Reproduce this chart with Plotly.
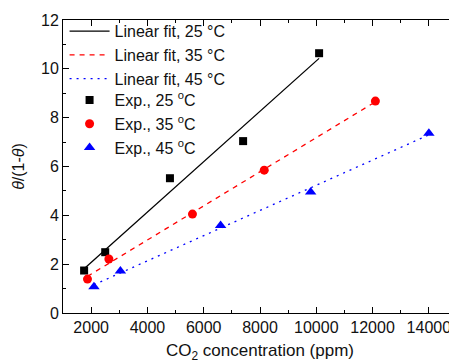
import numpy as np
import plotly.graph_objects as go

# Data
x25 = [1750, 2500, 4800, 7400, 10100]
y25 = [1.74, 2.49, 5.52, 7.04, 10.64]
x35 = [1870, 2630, 5600, 8150, 12100]
y35 = [1.39, 2.21, 4.05, 5.85, 8.68]
x45 = [2100, 3040, 6600, 9800, 14000]
y45 = [1.08, 1.72, 3.58, 4.96, 7.36]

x_ticks = [2000, 4000, 6000, 8000, 10000, 12000, 14000]
x_ticktext = ["2000", "4000", "6000", "8000", "10000", "12000", "14000"]
y_ticks = [0, 2, 4, 6, 8, 10, 12]
y_ticktext = ["0", "2", "4", "6", "8", "10", "12"]

fit_names = ["Linear fit, 25 °C", "Linear fit, 35 °C", "Linear fit, 45 °C"]
exp_names = ["Exp., 25 <sup>o</sup>C", "Exp., 35 <sup>o</sup>C", "Exp., 45 <sup>o</sup>C"]

FONT = "Liberation Sans, Arial, sans-serif"

fig = go.Figure()

series = [(x25, y25, "black", "solid", "square", 8),
          (x35, y35, "red", "5px,5px", "circle", 9),
          (x45, y45, "blue", "2px,5px", "triangle-up", 10)]

# fit lines
for (xs, ys, col, dash, sym, sz), name in zip(series, fit_names):
    k, b = np.polyfit(xs, ys, 1)
    xl = np.array([min(xs), max(xs)])
    fig.add_trace(go.Scatter(x=xl, y=k * xl + b, mode="lines", name=name,
                             legend="legend",
                             line=dict(color=col, width=1.3, dash=dash)))

# experimental points
for (xs, ys, col, dash, sym, sz), name in zip(series, exp_names):
    fig.add_trace(go.Scatter(x=xs, y=ys, mode="markers", name=name,
                             legend="legend2",
                             marker=dict(color=col, symbol=sym, size=sz)))

axis_common = dict(showline=True, linecolor="black", linewidth=1, mirror="allticks",
                   ticks="inside", ticklen=6, tickwidth=1, tickcolor="black",
                   showgrid=False, zeroline=False, automargin=False,
                   tickfont=dict(family=FONT, size=16, color="#111"))

fig.update_xaxes(range=[1000, 15000], tickvals=x_ticks, ticktext=x_ticktext,
                 ticklabelstandoff=0,
                 minor=dict(ticks="inside", ticklen=3, tickcolor="black",
                            tickvals=[1000, 3000, 5000, 7000, 9000, 11000, 13000, 15000]),
                 title=dict(text="CO<sub>2</sub> concentration (ppm)", standoff=11,
                            font=dict(family=FONT, size=17, color="#111")),
                 **axis_common)
fig.update_yaxes(range=[0, 12], tickvals=y_ticks, ticktext=y_ticktext,
                 minor=dict(ticks="inside", ticklen=3, tickcolor="black",
                            tickvals=[1, 3, 5, 7, 9, 11]),
                 title=dict(text="<i>θ</i>/(1-<i>θ</i>)", standoff=12,
                            font=dict(family=FONT, size=16, color="#111")),
                 **axis_common)

legend_style = dict(xanchor="left", yanchor="top",
                    bgcolor="rgba(0,0,0,0)", borderwidth=0,
                    font=dict(family=FONT, size=16, color="#111"),
                    tracegroupgap=0, itemwidth=40)

# page body has an 8px margin, so the figure is sized/offset to compensate
fig.update_layout(width=449, height=355,
                  margin=dict(l=55, r=0, t=12, b=50),
                  plot_bgcolor="white", paper_bgcolor="white",
                  font=dict(family=FONT, size=16, color="#111"),
                  legend=dict(x=0.004, y=1.02, **legend_style),
                  legend2=dict(x=0.004, y=0.785, **legend_style))

fig.write_html("out.html")
